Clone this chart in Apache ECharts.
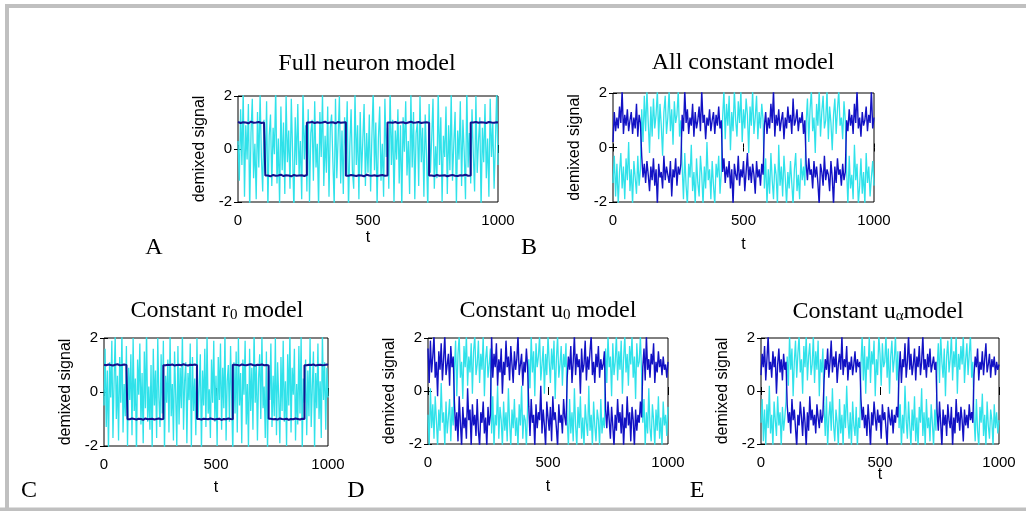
<!DOCTYPE html>
<html>
<head>
<meta charset="utf-8">
<script src="https://cdn.jsdelivr.net/npm/echarts@6/dist/echarts.min.js"></script>
<style>
html,body{margin:0;padding:0;background:#fff;}
#chart{width:1026px;height:511px;}
</style>
</head>
<body>
<div id="chart"></div>
<script>
// sample spacing along t: noisy traces read every 5 steps, clean square waves every 10
const tStepNoise = 5;
const tStepSquare = 10;
const xTicks = [0, 500, 1000];
const yTicks = [-2, 0, 2];

// Panel A: Full neuron model
const cyanA = [
0.3,-1.2,1.5,-0.6,2.2,-1.8,0.9,-0.4,1.7,-2.3,0.6,1.9,-1.1,0.2,-1.9,1.4,-0.7,2.1,-0.3,-1.6,
1.1,-0.9,1.8,-2.2,0.5,1.3,-1.4,0.8,-0.2,2.3,-1.3,0.4,-2.1,1.6,-0.8,1.0,-1.7,2.0,-0.5,0.7,
-1.5,1.9,-0.1,-2.4,1.2,-0.6,1.7,-1.0,0.3,-1.9,2.2,-0.4,0.9,-1.6,1.5,-2.0,0.6,1.1,-1.2,1.8,
-0.7,0.2,-2.2,1.4,-0.3,2.1,-1.4,0.5,-0.9,1.6,-1.8,0.8,1.3,-0.5,-2.1,1.9,-1.1,0.4,2.0,-1.3,
0.7,-1.7,1.2,-0.2,1.8,-2.3,0.1,1.5,-0.8,-1.5,2.1,-0.6,0.9,-1.9,1.4,-1.0,0.3,1.7,-1.4,0.6,
-0.9,1.3,-1.6,0.5,2.2,-0.8,1.0,-2.1,0.4,1.6,-1.2,0.2,-1.8,1.9,-0.3,0.8,-1.5,2.3,-0.6,1.1,
-2.0,0.7,-0.4,1.5,-1.3,0.9,-2.2,1.2,-0.1,1.8,-1.0,0.3,-1.7,2.1,-0.7,1.4,-1.9,0.6,1.0,-1.4,
2.0,-0.5,0.8,-1.8,1.3,-0.2,-2.3,1.7,-0.9,0.4,1.9,-1.5,0.1,-1.1,2.2,-0.6,1.2,-2.0,0.5,-0.3,
1.6,-1.7,0.9,-0.8,2.1,-1.2,0.2,1.4,-2.1,0.7,-0.4,1.8,-1.4,1.1,-0.1,-1.9,2.3,-0.7,0.6,-1.3,
1.5,-0.2,-1.6,2.0,-0.9,0.3,1.2,-2.2,0.8,-0.5,1.7,-1.1,0.4,-1.8,1.9,-0.3,1.0,-1.5,0.2,2.2,
-0.6];
const blueA = [
1.02,0.98,1.01,1.0,0.97,1.03,0.99,1.0,1.02,0.98,1.0,
-1.0,-1.03,-0.98,-1.01,-1.0,-0.97,-1.02,-0.99,-1.0,-1.03,-0.98,-1.01,-1.0,-0.99,-1.02,-0.98,
1.0,1.02,0.98,1.01,0.99,1.0,1.03,0.98,1.0,1.01,0.97,1.02,0.99,1.0,1.01,
-1.01,-0.98,-1.0,-1.02,-0.99,-1.0,-1.03,-0.97,-1.0,-1.01,-0.99,-1.02,-1.0,-0.98,-1.01,-1.0,
1.0,0.99,1.02,0.98,1.0,1.01,0.97,1.0,1.03,0.99,1.0,1.02,0.98,1.0,1.01,0.99,
-1.0,-1.02,-0.98,-1.01,-1.0,-0.99,-1.03,-1.0,-0.98,-1.01,-1.02,-0.99,-1.0,-0.97,-1.01,-1.0,
1.0,1.02,0.99,1.01,1.0,0.98,1.02,1.0,0.99,1.01,1.0];

// Panel B: All constant model
const cyanB = [
-1.3,-0.3,-1.8,-0.6,-2.1,-0.9,-0.2,-1.5,-0.7,-1.9,-0.4,-1.2,0.2,-1.6,-0.8,-2.1,-0.5,-1.1,-1.7,-0.3,-1.4,-0.8,
1.4,0.2,1.9,0.6,2.1,0.9,-0.2,1.5,0.4,1.8,0.7,1.2,2.1,0.3,1.6,0.8,-0.3,1.3,1.9,0.5,1.1,2.1,0.6,1.4,0.1,1.7,0.9,1.2,2.1,0.4,1.0,
-0.7,-1.9,-0.2,-1.4,-2.1,-0.6,-1.1,0.1,-1.6,-0.9,-2.1,-0.4,-1.3,-1.8,-0.3,-1.0,-2.1,-0.7,-1.5,0.2,-1.2,-0.8,-1.9,-0.5,-1.4,-2.1,-0.6,-1.1,-0.3,-1.7,-0.9,
1.1,2.1,0.3,1.6,0.8,1.9,-0.1,1.3,0.6,2.1,1.0,0.4,1.7,0.9,2.1,0.2,1.4,0.7,1.8,1.2,-0.2,1.5,0.8,2.1,0.5,1.1,1.9,0.3,1.3,0.7,1.6,1.0,
-1.5,-0.4,-2.1,-0.8,-1.7,-0.2,-1.2,-1.9,-0.6,-1.0,-2.1,0.1,-1.4,-0.7,-1.8,-0.3,-1.1,-2.1,-0.9,-1.5,-0.5,-1.3,-2.1,-0.8,-0.2,-1.6,-1.0,-1.9,-0.4,-1.2,-0.7,-1.4,
0.9,1.8,0.2,1.4,2.1,0.6,1.1,-0.2,1.6,0.8,2.1,0.4,1.3,1.9,0.7,1.0,2.1,0.3,1.5,0.9,-0.1,1.2,1.8,0.5,1.4,2.1,0.8,1.1,0.3,1.7,1.0,
-0.8,-2.1,-0.3,-1.5,-1.0,-1.9,0.1,-1.2,-0.6,-2.1,-1.4,-0.4,-1.7,-0.9,-2.1,-0.2,-1.3,-0.7,-1.8,-1.1,-0.5,-1.4];
const blueB = [
0.2,1.3,0.6,1.1,0.7,1.5,0.9,2.1,0.5,1.2,0.8,1.4,0.6,1.0,1.3,0.5,1.1,0.7,1.6,0.4,1.2,0.9,
-0.3,-1.1,-0.6,-1.3,-0.5,-1.0,-1.6,-0.7,-1.2,-0.4,-1.4,-0.8,-2.1,-0.6,-1.1,-0.9,-1.5,-0.3,-1.2,-0.7,-1.0,-1.3,-0.5,-1.8,-0.8,-1.1,-0.4,-1.4,-0.7,-1.0,-0.6,
1.2,0.6,2.1,0.9,1.4,0.5,1.1,0.8,1.6,0.4,1.3,0.7,1.0,1.5,0.6,2.1,0.9,1.2,0.3,1.1,0.8,1.4,0.6,1.0,1.3,0.5,1.2,0.8,1.5,0.7,1.0,
-0.9,-0.4,-1.3,-0.7,-1.1,-0.5,-1.5,-0.8,-2.1,-0.6,-1.0,-1.2,-0.3,-1.4,-0.8,-1.1,-0.5,-1.6,-0.9,-0.2,-1.2,-0.7,-1.3,-0.6,-1.0,-1.7,-0.5,-1.1,-0.8,-1.4,-0.6,-1.0,
0.8,1.3,0.5,1.1,0.7,1.6,0.9,2.1,0.4,1.2,0.8,1.4,0.6,1.0,1.3,0.3,1.1,0.7,1.5,0.9,1.2,0.5,1.8,0.8,1.0,1.4,0.6,1.1,0.9,1.3,0.5,1.0,
-0.6,-1.2,-0.4,-1.0,-0.8,-1.5,-0.5,-1.1,-0.7,-1.3,-2.1,-0.6,-0.9,-1.4,-0.3,-1.2,-0.8,-1.0,-1.6,-0.5,-1.1,-2.1,-0.7,-1.3,-0.4,-1.0,-0.8,-1.4,-0.6,-1.2,-0.9,
1.0,0.6,1.4,0.8,1.2,0.5,1.6,0.9,2.1,0.7,1.1,0.4,1.3,0.8,1.0,1.5,0.6,1.2,0.9,2.1,0.7,1.1];

// Panel C: Constant r0 model
const cyanC = [
-0.5,1.6,-1.3,0.8,-2.2,1.1,-0.2,1.9,-1.7,0.4,2.1,-1.0,0.6,-1.8,1.3,-0.4,2.2,-1.5,0.3,-0.9,
1.7,-2.0,0.9,-0.3,1.4,-1.6,2.0,-0.7,0.5,-2.3,1.2,-0.1,1.8,-1.2,0.7,-1.9,1.5,-0.6,2.3,-1.1,
0.2,-1.4,1.0,-2.1,1.6,-0.5,0.8,-1.7,2.0,-0.2,-1.3,1.4,-0.8,1.9,-2.2,0.6,-0.4,1.2,-1.5,2.1,
-0.9,0.3,-1.8,1.5,-0.1,-2.0,1.7,-1.2,0.9,-0.6,2.2,-1.4,0.4,1.1,-1.9,0.7,-0.3,1.8,-2.1,1.3,
-0.7,0.5,-1.6,2.0,-1.0,0.2,1.4,-2.2,0.8,-0.5,1.6,-1.3,2.1,-0.8,0.1,-1.7,1.2,-0.4,1.9,-1.1,
0.6,-2.0,1.3,-0.3,1.8,-1.4,0.9,-0.6,2.2,-1.8,0.4,1.0,-1.1,1.7,-0.2,-2.3,1.1,-0.8,1.5,-1.5,
2.0,-0.5,0.7,-1.9,1.2,-0.1,1.9,-1.2,0.3,-2.1,1.6,-0.7,0.9,-1.4,2.3,-0.4,1.0,-1.8,0.5,1.4,
-1.0,2.1,-0.6,0.2,-1.7,1.5,-2.2,0.8,-0.3,1.8,-1.3,0.6,-0.9,2.0,-1.6,1.1,-0.2,-1.9,1.3,-0.7,
1.9,-1.1,0.4,-2.0,1.4,-0.5,2.2,-1.5,0.9,-0.1,1.6,-1.8,0.3,-1.2,1.7,-0.8,2.1,-2.2,0.5,-0.4,
1.2,-1.6,0.8,-0.9,2.0,-1.3,0.2,1.5,-2.1,0.7,-0.6,1.8,-1.0,0.4,-1.7,2.2,-0.3,1.1,-1.4,0.9,
-0.2];
const blueC = [
1.01,0.99,1.02,1.0,0.98,1.01,1.03,0.99,1.0,1.02,1.0,
-1.01,-0.98,-1.0,-1.02,-0.99,-1.0,-1.03,-0.98,-1.01,-1.0,-0.99,-1.02,-1.0,-0.98,-1.01,-1.0,
0.99,1.01,1.0,1.02,0.98,1.0,1.01,0.99,1.03,1.0,0.98,1.01,1.0,1.02,0.99,
-1.0,-1.02,-0.99,-1.0,-1.01,-0.98,-1.0,-1.02,-1.0,-0.99,-1.03,-1.0,-1.01,-0.98,-1.0,-1.01,
1.01,1.0,0.98,1.02,1.0,0.99,1.01,1.03,1.0,0.98,1.01,1.0,1.02,0.99,1.0,0.98,
-0.99,-1.01,-1.0,-1.02,-0.98,-1.0,-1.01,-0.99,-1.03,-1.0,-1.01,-0.98,-1.0,-1.02,-0.99,-1.0,
0.99,1.01,1.0,1.02,0.98,1.0,1.01,0.99,1.0,1.02,1.0];

// Panel D: Constant u0 model
const cyanD = [
-0.9,-2.1,0.1,-1.4,-0.5,-1.8,-0.2,-1.1,-2.1,-0.7,-1.5,0.3,-1.2,-0.8,-2.1,-0.4,-1.6,-1.0,-0.3,-1.9,-0.6,-1.3,
0.8,1.9,-0.2,1.4,2.1,0.5,1.1,-0.3,1.7,0.9,2.1,0.2,1.3,0.7,1.8,-0.1,1.5,2.1,0.6,1.0,1.9,0.3,1.4,0.8,2.1,-0.2,1.2,1.7,0.5,1.0,1.6,
-1.6,-0.2,-2.1,-0.9,-1.3,0.2,-1.8,-0.6,-1.1,-2.1,-0.4,-1.5,-0.8,-1.9,0.1,-1.2,-2.1,-0.7,-1.4,-0.3,-1.7,-1.0,-2.1,-0.5,-1.3,0.2,-1.8,-0.9,-1.1,-2.1,-0.6,
1.2,0.1,2.1,0.7,1.5,-0.2,1.8,0.9,1.3,2.1,0.4,1.0,1.7,-0.1,1.4,0.6,2.1,1.1,0.3,1.6,0.8,1.9,-0.3,1.2,2.1,0.5,1.0,1.7,0.2,1.4,0.9,1.8,
-1.1,-2.1,-0.3,-1.6,-0.8,-1.9,0.1,-1.3,-2.1,-0.6,-1.4,-0.2,-1.8,-1.0,-2.1,-0.5,-1.2,-1.7,0.2,-1.5,-0.9,-2.1,-0.4,-1.3,-1.9,-0.7,-1.1,-2.1,-0.3,-1.6,-1.0,-1.4,
1.6,0.3,2.1,0.9,1.3,-0.2,1.8,0.6,1.1,2.1,0.4,1.5,0.8,1.9,-0.1,1.2,2.1,0.7,1.4,0.2,1.7,1.0,2.1,0.5,1.3,-0.3,1.8,0.9,1.1,2.1,0.6,
-1.2,-0.3,-2.1,-0.8,-1.6,0.1,-1.4,-1.9,-0.5,-1.1,-2.1,-0.7,-1.5,-0.2,-1.8,-1.0,-2.1,-0.4,-1.3,-0.9,-1.7,-0.6];
const blueD = [
1.6,0.3,1.9,0.7,1.3,2.1,0.5,1.1,-0.2,1.5,0.8,1.8,0.4,1.2,2.1,0.6,1.0,1.4,0.2,1.7,0.9,1.3,
-0.4,-1.5,-0.8,-1.9,-0.2,-1.2,-2.1,-0.6,-1.4,-1.0,-1.8,0.1,-1.1,-0.7,-2.1,-0.5,-1.3,-0.9,-1.7,-0.3,-1.5,-2.1,-0.8,-1.2,-0.4,-1.6,-1.0,-2.1,-0.6,-1.3,-0.9,
2.1,0.5,1.4,0.9,1.8,0.2,1.2,0.7,1.6,-0.1,1.1,0.6,1.9,0.9,1.3,0.4,1.7,1.0,0.3,1.5,0.8,1.2,2.1,0.6,1.0,1.4,0.2,1.1,0.7,1.6,0.9,
-0.6,-1.7,-0.3,-1.2,-0.9,-2.1,-0.5,-1.4,-0.8,-1.1,0.2,-1.6,-0.7,-1.3,-2.1,-0.4,-1.0,-1.5,-0.6,-1.9,-0.2,-1.1,-0.8,-1.4,-2.1,-0.5,-1.2,-0.9,-1.6,-0.3,-1.0,-1.3,
0.5,1.3,0.8,1.7,0.3,1.1,2.1,0.6,1.4,0.9,1.2,-0.1,1.6,0.7,1.0,1.9,0.4,1.3,0.8,1.5,2.1,0.6,1.1,0.3,1.4,0.9,1.7,0.5,1.2,0.8,1.0,1.5,
-0.7,-1.4,-0.4,-1.1,-1.8,-0.6,-1.3,-2.1,-0.9,-1.5,-0.3,-1.2,-0.8,-1.6,-0.5,-2.1,-1.0,-1.4,-0.2,-1.3,-0.8,-1.9,-0.6,-1.1,-2.1,-0.7,-1.5,-0.9,-1.2,-0.4,-1.0,
0.9,1.6,0.4,2.1,0.8,1.2,0.5,1.4,1.0,1.8,0.3,1.1,0.7,1.5,0.9,1.2,0.6,1.3,0.8,1.0,0.5,1.1];

// Panel E: Constant u-alpha model
const cyanE = [
-1.2,-0.3,-1.9,-0.7,-2.1,-0.5,-1.4,0.2,-1.6,-0.9,-2.1,-0.4,-1.1,-1.7,-0.2,-1.3,-0.8,-2.1,-0.6,-1.5,-1.0,-0.4,
1.3,0.2,2.1,0.8,1.6,-0.2,1.1,1.9,0.5,1.4,2.1,0.7,1.2,-0.1,1.7,0.9,2.1,0.4,1.3,1.8,0.6,1.0,2.1,0.3,1.5,0.8,1.9,-0.2,1.2,0.7,1.6,
-0.6,-1.7,-0.2,-2.1,-1.0,-0.4,-1.5,0.1,-1.3,-1.9,-0.7,-1.2,-2.1,-0.3,-1.6,-0.9,-2.1,-0.5,-1.4,0.2,-1.1,-1.8,-0.8,-2.1,-0.4,-1.3,-1.7,-0.6,-2.1,-1.0,-1.4,
1.0,2.1,0.4,1.7,-0.1,1.3,0.8,2.1,0.3,1.5,1.0,1.9,-0.2,1.2,0.6,2.1,1.4,0.2,1.8,0.9,1.1,2.1,0.5,1.6,-0.1,1.3,1.9,0.7,1.2,2.1,0.4,1.5,
-1.4,-0.5,-2.1,-0.9,-1.6,0.2,-1.1,-1.8,-0.4,-1.3,-2.1,-0.7,-1.5,-0.2,-1.9,-1.0,-2.1,-0.6,-1.2,0.1,-1.7,-0.8,-2.1,-0.3,-1.4,-1.0,-1.9,-0.5,-1.2,-2.1,-0.7,-1.5,
0.9,1.8,0.3,2.1,1.1,0.5,1.6,-0.2,1.3,1.9,0.7,1.2,2.1,0.4,1.5,0.9,2.1,-0.1,1.4,0.8,1.7,1.0,2.1,0.3,1.2,1.8,0.6,1.4,2.1,0.5,1.1,
-1.0,-1.9,-0.3,-1.5,-2.1,-0.6,-1.2,-0.1,-1.7,-0.9,-2.1,-0.4,-1.3,-1.8,-0.7,-1.1,-2.1,-0.5,-1.4,-0.8,-1.6,-1.1];
const blueE = [
0.6,1.4,0.9,1.7,0.4,1.2,2.1,0.8,1.1,0.5,1.5,0.9,1.3,-0.1,1.0,1.6,0.7,1.2,0.4,1.4,0.8,1.1,
-0.5,-1.2,-0.8,-1.6,-0.3,-1.1,-0.7,-1.4,-2.1,-0.9,-1.3,-0.4,-1.0,-1.7,-0.6,-1.2,-2.1,-0.8,-1.5,-0.2,-1.1,-0.7,-1.3,-0.9,-1.6,-0.5,-1.0,-1.4,-0.7,-1.2,-0.9,
0.4,1.2,0.8,1.6,0.5,1.1,1.9,0.7,1.3,0.9,1.5,0.3,1.0,1.4,0.8,2.1,0.6,1.2,0.9,1.7,0.4,1.1,0.8,1.3,0.6,1.0,1.5,0.7,1.2,0.9,1.1,
-0.3,-1.1,-0.6,-1.4,-0.9,-1.7,-0.5,-1.2,-2.1,-0.8,-1.3,-0.4,-1.0,-1.5,-0.7,-1.2,-0.9,-1.8,-0.5,-1.1,-0.8,-1.4,-2.1,-0.6,-1.0,-1.3,-0.7,-1.6,-0.9,-1.2,-0.6,-1.0,
0.7,1.5,0.3,1.2,0.9,1.8,0.5,1.1,2.1,0.8,1.4,0.6,1.0,1.6,0.4,1.3,0.9,1.7,0.6,1.1,2.1,0.8,1.2,0.5,1.4,0.9,1.6,0.7,1.0,1.3,0.8,1.1,
-0.8,-1.5,-0.4,-1.2,-2.1,-0.7,-1.3,-0.9,-1.7,-0.5,-1.1,-1.4,-0.6,-2.1,-1.0,-1.6,-0.3,-1.2,-0.8,-1.5,-0.6,-1.1,-1.9,-0.7,-1.3,-0.9,-1.4,-0.5,-1.1,-0.8,-1.2,
0.6,1.3,0.9,1.6,0.4,1.1,0.8,1.5,0.6,1.2,1.8,0.7,1.0,1.4,0.5,1.2,0.9,1.3,0.6,1.1,0.8,1.0];

const panelTitles = ['Full neuron model', 'All constant model', 'Constant r{s|0} model', 'Constant u{s|0} model', 'Constant u{s|α}model'];
const panelLetters = ['A', 'B', 'C', 'D', 'E'];
const yName = 'demixed signal';
const xName = 't';

// ---- layout (pixels) ----
const grids = [
  {left: 238, top: 96, width: 260, height: 106},
  {left: 613, top: 93, width: 261, height: 109},
  {left: 104, top: 338, width: 224, height: 108},
  {left: 428, top: 338, width: 240, height: 106},
  {left: 761, top: 338, width: 238, height: 106}
];
const xNameGaps = [28, 35, 34, 35, 23];
const titlePos = [[367, 64], [743, 63], [217, 311], [548, 311], [878, 312]];
const letterPos = [[154, 248], [529, 248], [29, 491], [356, 491], [697, 491]];

const CYAN = '#30e2ea';
const NAVY = '#12128e';
const BLUE = '#1212c4';

const panels = [
  {cyan: cyanA, blue: blueA, clean: true},
  {cyan: cyanB, blue: blueB, clean: false},
  {cyan: cyanC, blue: blueC, clean: true},
  {cyan: cyanD, blue: blueD, clean: false},
  {cyan: cyanE, blue: blueE, clean: false}
];

const toPts = (arr, step) => arr.map((v, i) => [i * step, v]);
const SANS = 'Liberation Sans, Arial, sans-serif';
const SERIF = 'Liberation Serif, Times New Roman, serif';
const numFmt = v => String(v);

const grid = [], xAxis = [], yAxis = [], series = [];
panels.forEach((p, g) => {
  grid.push(Object.assign({show: true, borderColor: '#000', borderWidth: 1, backgroundColor: '#fff', containLabel: false}, grids[g]));
  const tick = {show: true, inside: true, length: 4, lineStyle: {color: '#000', width: 1}};
  xAxis.push({
    gridIndex: g, type: 'value', min: xTicks[0], max: xTicks[2], interval: xTicks[1] - xTicks[0],
    axisLine: {show: false}, splitLine: {show: false}, axisTick: tick,
    axisLabel: {color: '#000', fontSize: 15, fontFamily: SANS, margin: 11, formatter: numFmt},
    name: xName, nameLocation: 'middle', nameGap: xNameGaps[g], nameMoveOverlap: false,
    nameTextStyle: {color: '#000', fontSize: 16, fontFamily: SANS}
  });
  xAxis.push({
    gridIndex: g, type: 'value', position: 'top', min: xTicks[0], max: xTicks[2], interval: xTicks[1] - xTicks[0],
    axisLine: {show: false}, splitLine: {show: false}, axisTick: tick, axisLabel: {show: false}
  });
  yAxis.push({
    gridIndex: g, type: 'value', min: yTicks[0], max: yTicks[2], interval: yTicks[1] - yTicks[0],
    axisLine: {show: false}, splitLine: {show: false}, axisTick: tick,
    axisLabel: {color: '#000', fontSize: 15, fontFamily: SANS, margin: 6, formatter: numFmt},
    name: yName, nameLocation: 'middle', nameGap: 30, nameRotate: 90, nameMoveOverlap: false,
    nameTextStyle: {color: '#000', fontSize: 16, fontFamily: SANS}
  });
  yAxis.push({
    gridIndex: g, type: 'value', position: 'right', min: yTicks[0], max: yTicks[2], interval: yTicks[1] - yTicks[0],
    axisLine: {show: false}, splitLine: {show: false}, axisTick: tick, axisLabel: {show: false}
  });
  series.push({
    type: 'line', xAxisIndex: 2 * g, yAxisIndex: 2 * g, data: toPts(p.cyan, tStepNoise),
    showSymbol: false, symbol: 'none', clip: true, lineStyle: {color: CYAN, width: 1.3}, z: 2
  });
  series.push({
    type: 'line', xAxisIndex: 2 * g, yAxisIndex: 2 * g,
    data: toPts(p.blue, p.clean ? tStepSquare : tStepNoise),
    showSymbol: false, symbol: 'none', clip: true, step: p.clean ? 'middle' : false,
    lineStyle: {color: p.clean ? NAVY : BLUE, width: p.clean ? 2 : 1.4}, z: 3
  });
});

const graphic = [
  {type: 'polyline', shape: {points: [[7, 511], [7, 6], [1026, 6]]}, style: {stroke: '#c0c0c0', lineWidth: 4, fill: null}, silent: true},
  {type: 'line', shape: {x1: 0, y1: 509.5, x2: 1026, y2: 509.5}, style: {stroke: '#c0c0c0', lineWidth: 4}, silent: true}
];
panelTitles.forEach((t, i) => {
  graphic.push({
    type: 'text', x: titlePos[i][0], y: titlePos[i][1], silent: true,
    style: {
      text: t, fontSize: 24, fontFamily: SERIF, fill: '#000', align: 'center', verticalAlign: 'middle',
      rich: {s: {fontSize: 15, fontFamily: SERIF, fill: '#000', verticalAlign: 'bottom', lineHeight: 20}}
    }
  });
});
panelLetters.forEach((t, i) => {
  graphic.push({
    type: 'text', x: letterPos[i][0], y: letterPos[i][1], silent: true,
    style: {text: t, fontSize: 24, fontFamily: SERIF, fill: '#000', align: 'center', verticalAlign: 'middle'}
  });
});

const chart = echarts.init(document.getElementById('chart'), null, {renderer: 'canvas'});
chart.setOption({animation: false, backgroundColor: '#fff', grid, xAxis, yAxis, series, graphic});
</script>
</body>
</html>
